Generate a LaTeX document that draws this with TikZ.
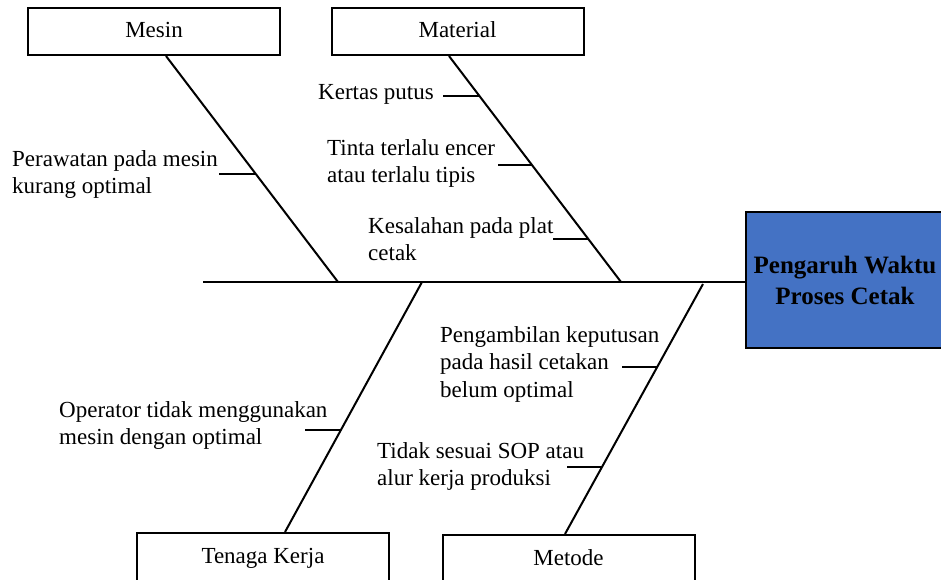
\documentclass[tikz,border=0pt]{standalone}
\usepackage{fontspec}
\setmainfont{Liberation Serif}
\usetikzlibrary{calc}
\definecolor{headblue}{RGB}{68,114,196}
\tikzset{
  catbox/.style={draw,rectangle,line width=2pt,minimum width=252pt,minimum height=47pt,text depth=4pt,font=\fontsize{23}{27.5}\selectfont},
  cause/.style={anchor=north west,inner sep=0pt,align=left,font=\fontsize{23}{27.5}\selectfont},
  bone/.style={line width=2pt}
}

\begin{document}
\begin{tikzpicture}[x=1pt,y=-1pt]
      \useasboundingbox (0,0) rectangle (941,580);
      \clip (0,0) rectangle (941,580);

      \node[catbox] (nodeMesin) at (154,31.5) {Mesin};
      \node[catbox] (nodeMaterial) at (457.5,31.5) {Material};
      \node[catbox,minimum height=50pt] (nodeTenaga) at (263,558) {Tenaga Kerja};
      \node[catbox,minimum height=50pt] (nodeMetode) at (568.5,560) {Metode};
      \node[draw,rectangle,line width=2pt,fill=headblue,minimum width=198pt,minimum height=136pt,align=center,font=\fontsize{25}{31}\selectfont\bfseries] (nodeHead) at (845,280) {Pengaruh Waktu\\Proses Cetak};

      \coordinate (tail) at (203,282);
      \coordinate (jMesin) at (338,282);
      \coordinate (jMaterial) at (621,282);
      \coordinate (jTenaga) at (422,282);
      \coordinate (jMetode) at (703,284);

      \draw[bone] (tail) -- (tail -| nodeHead.west);
      \draw[bone] ($(nodeMesin.south)+(12,0)$) coordinate (tMesin) -- (jMesin);
      \draw[bone] ($(nodeMaterial.south)+(-8.5,0)$) coordinate (tMaterial) -- (jMaterial);
      \draw[bone] (jTenaga) -- ($(nodeTenaga.north)+(22,0)$) coordinate (bTenaga);
      \draw[bone] (jMetode) -- ($(nodeMetode.north)+(-3.5,0)$) coordinate (bMetode);

      \draw[bone] ($(tMesin)!0.522!(jMesin)$) -- ++(-37,0);
      \foreach \t/\len in {0.175/36,0.482/34,0.811/36}{
          \draw[bone] ($(tMaterial)!\t!(jMaterial)$) -- ++(-\len,0);
      }
      \draw[bone] ($(jTenaga)!0.59!(bTenaga)$) -- ++(-36,0);
      \foreach \t in {0.331,0.733}{
          \draw[bone] ($(jMetode)!\t!(bMetode)$) -- ++(-35,0);
      }

      \node[cause] (txtPerawatan) at (12,150.3) {Perawatan pada mesin\\kurang optimal};
      \node[cause] (txtKertas) at (318,84) {Kertas putus};
      \node[cause] (txtTinta) at (327,139.3) {Tinta terlalu encer\\atau terlalu tipis};
      \node[cause] (txtKesalahan) at (368,217.3) {Kesalahan pada plat\\cetak};
      \node[cause] (txtOperator) at (59,401.3) {Operator tidak menggunakan\\mesin dengan optimal};
      \node[cause] (txtPengambilan) at (440,326.3) {Pengambilan keputusan\\pada hasil cetakan\\belum optimal};
      \node[cause] (txtTidak) at (377,442.3) {Tidak sesuai SOP atau\\alur kerja produksi};
\end{tikzpicture}
\end{document}
